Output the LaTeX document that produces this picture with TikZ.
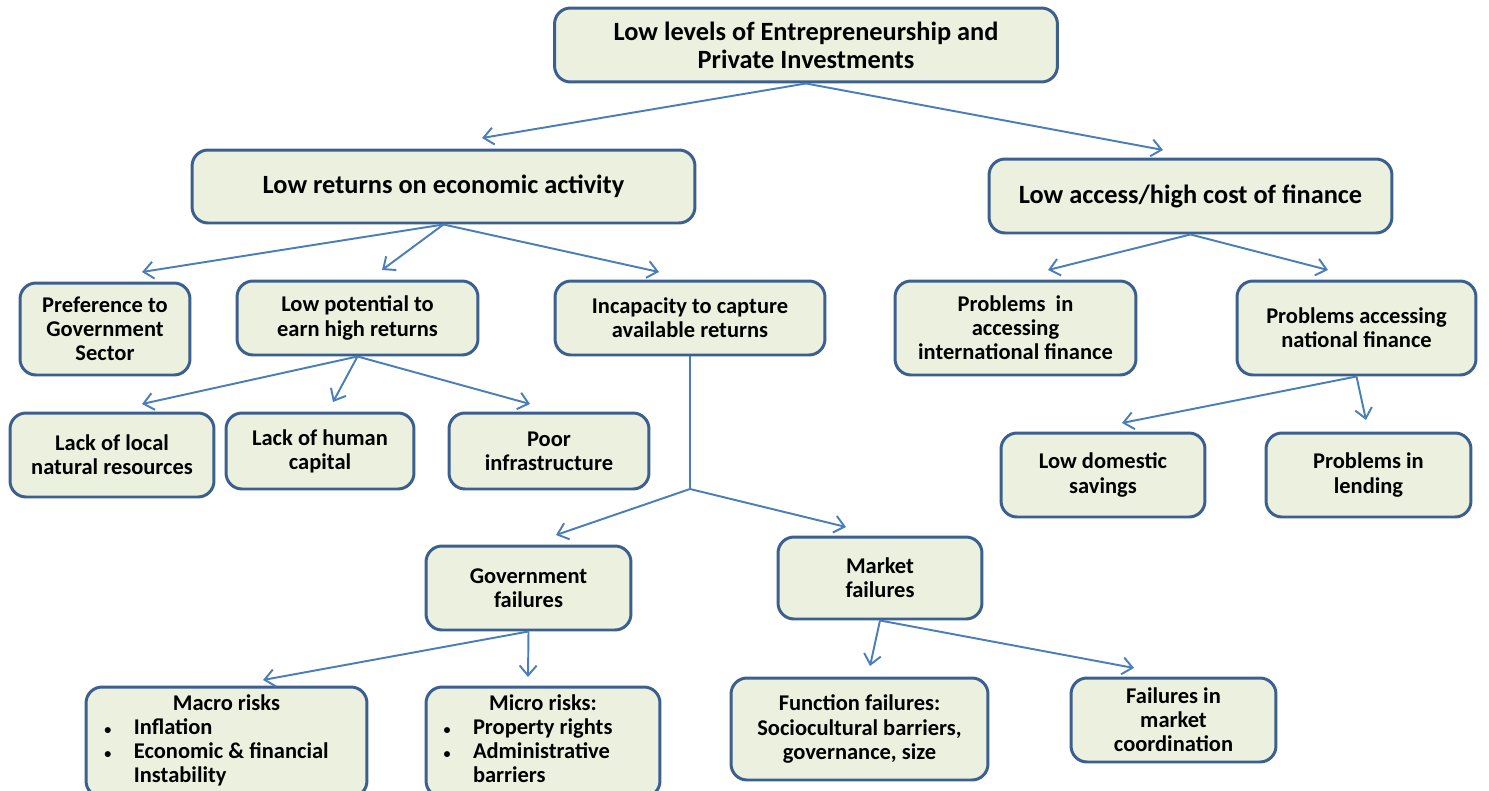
\documentclass[tikz,border=0pt]{standalone}
\usepackage{fontspec}
\setmainfont{Carlito}
\usetikzlibrary{arrows.meta}
\definecolor{boxfill}{HTML}{EBF1DE}
\definecolor{boxline}{HTML}{3B5F8E}
\definecolor{arrline}{HTML}{4A7EBB}
\newcommand{\bul}{{\fontsize{8}{8}\selectfont\textbullet}}
\begin{document}
\begin{tikzpicture}[x=0.02cm,y=-0.02cm,
  box/.style={draw=boxline,fill=boxfill,line width=1.7pt,rounded corners=0.32cm,
    align=center,inner sep=2pt,font=\fontsize{12.8}{13.7}\selectfont\bfseries},
  bigbox/.style={box,font=\fontsize{15}{15.9}\selectfont\bfseries},
  arr/.style={draw=arrline,line width=1.1pt,-{Straight Barb[length=2mm,width=3.4mm]}},
  lin/.style={draw=arrline,line width=1.1pt}]
  \clip (0,0) rectangle (1489,791);
  \useasboundingbox (0,0) rectangle (1489,791);
  % top level
  \node[bigbox,minimum width=10.06cm,minimum height=1.48cm] (top) at (806,45) {Low levels of Entrepreneurship and\\Private Investments};
  \node[bigbox,minimum width=10.06cm,minimum height=1.46cm] (returns) at (443.5,186.5) {Low returns on economic activity};
  \node[bigbox,minimum width=8.06cm,minimum height=1.48cm] (finance) at (1190.5,196) {Low access/high cost of finance};
  % second level
  \node[box,minimum width=3.4cm,minimum height=1.84cm] (pref) at (105,329) {Preference to\\Government\\Sector};
  \node[box,minimum width=4.82cm,minimum height=1.48cm] (lowpot) at (357.5,318) {Low potential to\\earn high returns};
  \node[box,minimum width=5.4cm,minimum height=1.48cm] (incap) at (690,318) {Incapacity to capture\\available returns};
  \node[box,minimum width=4.82cm,minimum height=1.88cm] (intl) at (1015.5,328) {Problems~ in\\accessing\\international finance};
  \node[box,minimum width=4.78cm,minimum height=1.88cm] (natl) at (1356.5,328) {Problems accessing\\national finance};
  % third level
  \node[box,minimum width=4.08cm,minimum height=1.68cm] (lacknat) at (112,455) {Lack of local\\natural resources};
  \node[box,minimum width=3.76cm,minimum height=1.52cm] (lackhum) at (320,451) {Lack of human\\capital};
  \node[box,minimum width=4.0cm,minimum height=1.52cm] (poor) at (549,451) {Poor\\infrastructure};
  \node[box,minimum width=4.08cm,minimum height=1.68cm] (savings) at (1103,475) {Low domestic\\savings};
  \node[box,minimum width=4.1cm,minimum height=1.68cm] (lending) at (1368.5,475) {Problems in\\lending};
  % failures
  \node[box,minimum width=4.1cm,minimum height=1.68cm] (govfail) at (528.5,588) {Government\\failures};
  \node[box,minimum width=4.08cm,minimum height=1.64cm] (mktfail) at (880,578) {Market\\failures};
  % bottom level
  \node[box,minimum width=5.62cm,minimum height=2.2cm] (macro) at (226.5,742) {%
    \begin{tabular}{@{}l@{\hspace{0.45cm}}l@{\hspace{0.4cm}}}
    \multicolumn{2}{c}{Macro risks}\\
    \bul & Inflation\\
    \bul & Economic \& financial\\
    & Instability
    \end{tabular}};
  \node[box,minimum width=4.68cm,minimum height=2.2cm] (micro) at (543,742) {%
    \begin{tabular}{@{}l@{\hspace{0.45cm}}l@{\hspace{0.6cm}}}
    \multicolumn{2}{c}{Micro risks:}\\
    \bul & Property rights\\
    \bul & Administrative\\
    & barriers
    \end{tabular}};
  \node[box,minimum width=5.14cm,minimum height=2.04cm] (function) at (859.5,729) {Function failures:\\Sociocultural barriers,\\governance, size};
  \node[box,minimum width=4.1cm,minimum height=1.68cm] (coord) at (1173.5,720) {Failures in\\market\\coordination};
  % arrow tips
  \coordinate (tReturns) at (482,138);
  \coordinate (tFinance) at (1163,150);
  \coordinate (tPref) at (142,272);
  \coordinate (tLowpot) at (382,270);
  \coordinate (tIncap) at (659,272);
  \coordinate (tIntl) at (1048,270);
  \coordinate (tNatl) at (1328,270);
  \coordinate (tLacknat) at (142,404);
  \coordinate (tLackhum) at (333,402);
  \coordinate (tPoor) at (530,404);
  \coordinate (tSavings) at (1122,423);
  \coordinate (tLending) at (1366,420);
  \coordinate (split) at (690,489);
  \coordinate (tGovfail) at (556,535);
  \coordinate (tMktfail) at (846,527);
  \coordinate (tMacro) at (263,680);
  \coordinate (tMicro) at (528,677);
  \coordinate (tFunction) at (870,666);
  \coordinate (tCoord) at (1134,668);
  % connectors
  \draw[arr] (top.south) -- (tReturns);
  \draw[arr] (top.south) -- (tFinance);
  \draw[arr] (returns.south) -- (tPref);
  \draw[arr] (returns.south) -- (tLowpot);
  \draw[arr] (returns.south) -- (tIncap);
  \draw[arr] (finance.south) -- (tIntl);
  \draw[arr] (finance.south) -- (tNatl);
  \draw[arr] (lowpot.south) -- (tLacknat);
  \draw[arr] (lowpot.south) -- (tLackhum);
  \draw[arr] (lowpot.south) -- (tPoor);
  \draw[arr] (natl.south) -- (tSavings);
  \draw[arr] (natl.south) -- (tLending);
  \draw[lin] (incap.south) -- (split);
  \draw[arr] (split) -- (tGovfail);
  \draw[arr] (split) -- (tMktfail);
  \draw[arr] (govfail.south) -- (tMacro);
  \draw[arr] (govfail.south) -- (tMicro);
  \draw[arr] (mktfail.south) -- (tFunction);
  \draw[arr] (mktfail.south) -- (tCoord);
\end{tikzpicture}
\end{document}
